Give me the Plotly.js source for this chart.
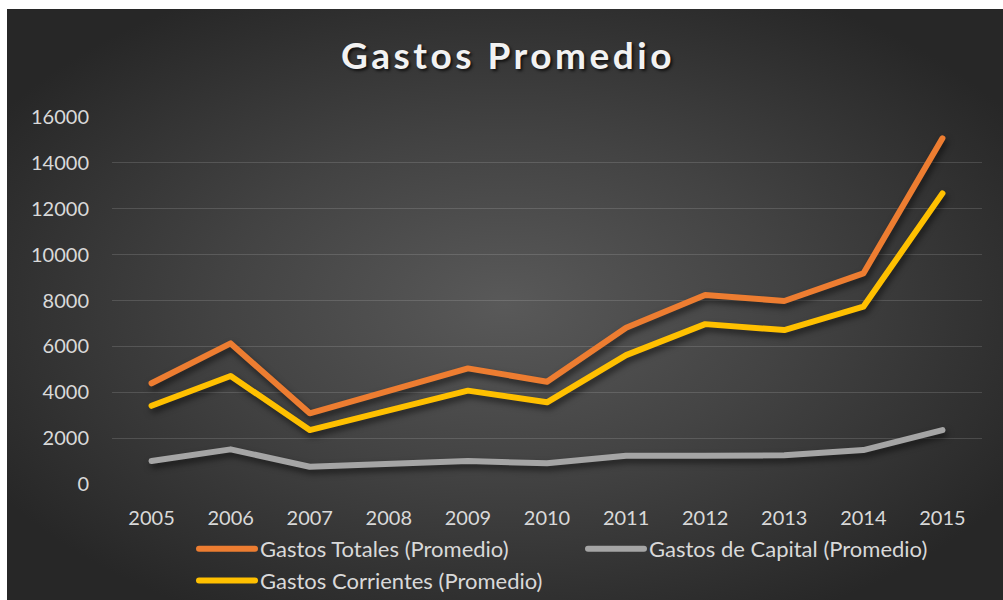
<!DOCTYPE html>
<html>
<head>
<meta charset="utf-8">
<script src="https://cdn.plot.ly/plotly-3.0.1.min.js"></script>
<style>
  html, body { margin: 0; padding: 0; background: #ffffff; width: 1003px; height: 600px; overflow: hidden; }
  #wrap {
    position: absolute; left: 7px; top: 9px; width: 996px; height: 591px;
    background: radial-gradient(ellipse farthest-corner at 50% 50%, #595959 0%, #434343 40%, #272727 85%);
  }
  #chart { width: 996px; height: 591px; }
  .js-line { stroke-linecap: round; stroke-linejoin: round; }
  .scatterlayer .trace { filter: drop-shadow(2px 4px 3px rgba(0,0,0,0.55)); }
  .gtitle { letter-spacing: 3.5px; }
</style>
</head>
<body>
<div id="wrap"><div id="chart"></div></div>
<script>
const years = ["2005","2006","2007","2008","2009","2010","2011","2012","2013","2014","2015"];
const gastosTotales = [4390, 6130, 3080, 4050, 5040, 4460, 6810, 8240, 7980, 9180, 15070];
const gastosCapital = [1000, 1510, 750, 860, 1000, 900, 1230, 1230, 1250, 1480, 2350];
const gastosCorrientes = [3410, 4710, 2350, 3200, 4070, 3560, 5620, 6970, 6710, 7730, 12670];
const yTicks = [0, 2000, 4000, 6000, 8000, 10000, 12000, 14000, 16000];

const names = ["Gastos Totales (Promedio)", "Gastos de Capital (Promedio)", "Gastos Corrientes (Promedio)"];
const colors = ["#ED7D31", "#A5A5A5", "#FFC000"];
const series = [gastosTotales, gastosCapital, gastosCorrientes];

const traces = series.map((vals, i) => ({
  type: "scatter",
  mode: "lines",
  x: years,
  y: vals,
  name: names[i],
  line: { color: colors[i], width: 6 },
  hoverinfo: "x+y+name"
}));

const fontFam = "Lato, 'Open Sans', sans-serif";

const layout = {
  width: 996,
  height: 591,
  paper_bgcolor: "rgba(0,0,0,0)",
  plot_bgcolor: "rgba(0,0,0,0)",
  margin: { l: 105, r: 21, t: 108, b: 116 },
  title: {
    text: "<b>Gastos Promedio</b>",
    x: 0.503,
    xref: "container",
    xanchor: "center",
    y: 1 - 47 / 591,
    yref: "container",
    yanchor: "middle",
    font: { family: fontFam, size: 37, color: "#f2f2f2", shadow: "2px 2px 3px rgba(0,0,0,0.7)" }
  },
  xaxis: {
    type: "category",
    tickvals: years,
    ticktext: years,
    range: [-0.5, years.length - 0.5],
    showgrid: false,
    zeroline: false,
    showline: false,
    ticks: "",
    ticklabelstandoff: 20,
    tickfont: { family: fontFam, size: 20, color: "#d9d9d9" },
    fixedrange: true
  },
  yaxis: {
    range: [0, 16000],
    tickvals: yTicks,
    ticktext: yTicks.map(String),
    showgrid: true,
    gridcolor: "rgba(217,217,217,0.17)",
    gridwidth: 1,
    zeroline: false,
    showline: false,
    ticks: "",
    ticklabelstandoff: 22,
    tickfont: { family: fontFam, size: 20, color: "#d9d9d9" },
    fixedrange: true
  },
  showlegend: true,
  legend: {
    orientation: "h",
    x: 187 / 996,
    xref: "container",
    xanchor: "left",
    y: 1 - 519 / 591,
    yref: "container",
    yanchor: "top",
    itemwidth: 56,
    entrywidth: 318,
    entrywidthmode: "pixels",
    tracegroupgap: 0,
    bgcolor: "rgba(0,0,0,0)",
    font: { family: fontFam, size: 22, color: "#d9d9d9" },
    itemclick: false,
    itemdoubleclick: false
  }
};

Plotly.newPlot("chart", traces, layout, { displayModeBar: false });
</script>
</body>
</html>
